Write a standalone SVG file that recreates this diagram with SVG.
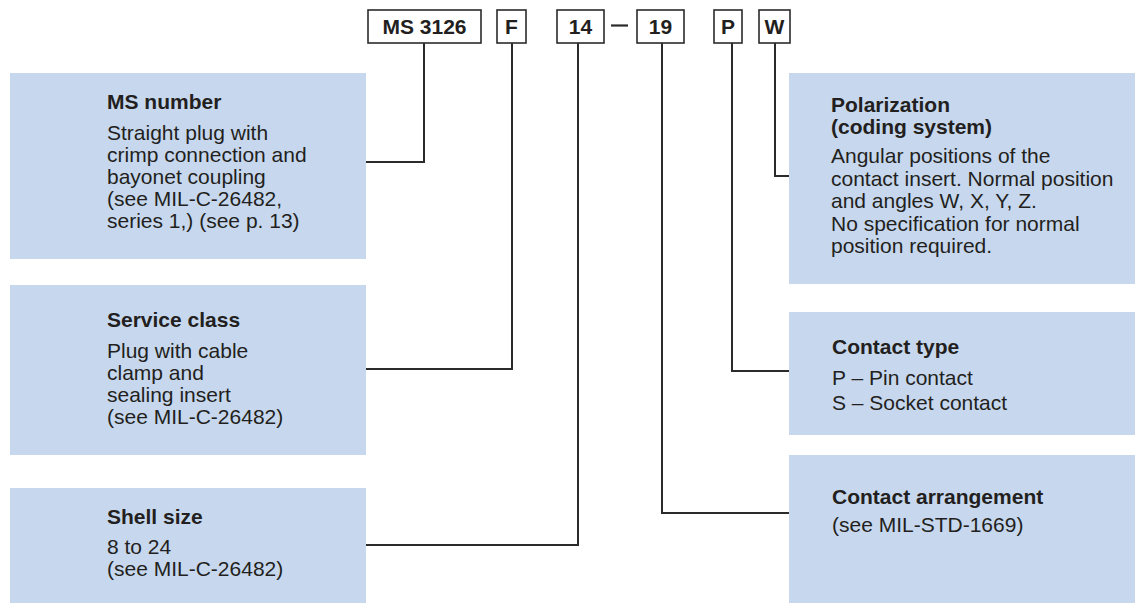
<svg xmlns="http://www.w3.org/2000/svg" width="1135" height="603" viewBox="0 0 1135 603">
<style>
.panel{fill:#c7d8ee;stroke:none}
.code{fill:#fff;stroke:#2b2b2b;stroke-width:1.6}
.t{font-family:"Liberation Sans",Arial,Helvetica,sans-serif;font-size:21px;fill:#231f20}
.b{font-weight:bold}
.c{text-anchor:middle}
.conn{fill:none;stroke:#2b2b2b;stroke-width:2}
</style>
<rect width="1135" height="603" fill="#fff"/>
<g id="code">
  <g id="code-ms"><rect class="code" x="368" y="10" width="113" height="33"/><text class="t b c" x="424.5" y="34">MS 3126</text></g>
  <g id="code-f"><rect class="code" x="497" y="10" width="29" height="33"/><text class="t b c" x="511.5" y="34">F</text></g>
  <g id="code-14"><rect class="code" x="557" y="10" width="47" height="33"/><text class="t b c" x="580.5" y="34">14</text></g>
  <line x1="611" y1="25.5" x2="628" y2="25.5" stroke="#2b2b2b" stroke-width="2.2"/>
  <g id="code-19"><rect class="code" x="637" y="10" width="47" height="33"/><text class="t b c" x="660.5" y="34">19</text></g>
  <g id="code-p"><rect class="code" x="714" y="10" width="28" height="33"/><text class="t b c" x="728" y="34">P</text></g>
  <g id="code-w"><rect class="code" x="759" y="10" width="31" height="33"/><text class="t b c" x="774.5" y="34">W</text></g>
</g>
<g id="connectors">
  <path class="conn" d="M424,43 V162 H366"/>
  <path class="conn" d="M512,43 V369 H366"/>
  <path class="conn" d="M578,43 V545 H366"/>
  <path class="conn" d="M662,43 V513 H789"/>
  <path class="conn" d="M732,43 V371 H789"/>
  <path class="conn" d="M775,43 V176 H789"/>
</g>
<g id="ms-number">
  <rect class="panel" x="10" y="73" width="356" height="186"/>
  <text class="t b" x="107" y="109">MS number</text>
  <text class="t" x="107" y="140">Straight plug with</text>
  <text class="t" x="107" y="162">crimp connection and</text>
  <text class="t" x="107" y="184">bayonet coupling</text>
  <text class="t" x="107" y="206">(see MIL-C-26482,</text>
  <text class="t" x="107" y="228">series 1,) (see p. 13)</text>
</g>
<g id="service-class">
  <rect class="panel" x="10" y="285" width="356" height="170"/>
  <text class="t b" x="107" y="327">Service class</text>
  <text class="t" x="107" y="358">Plug with cable</text>
  <text class="t" x="107" y="380">clamp and</text>
  <text class="t" x="107" y="402">sealing insert</text>
  <text class="t" x="107" y="424">(see MIL-C-26482)</text>
</g>
<g id="shell-size">
  <rect class="panel" x="10" y="488" width="356" height="115"/>
  <text class="t b" x="107" y="524">Shell size</text>
  <text class="t" x="107" y="554">8 to 24</text>
  <text class="t" x="107" y="576">(see MIL-C-26482)</text>
</g>
<g id="polarization">
  <rect class="panel" x="789" y="73" width="346" height="211"/>
  <text class="t b" x="831" y="112">Polarization</text>
  <text class="t b" x="831" y="134">(coding system)</text>
  <text class="t" x="831" y="163">Angular positions of the</text>
  <text class="t" x="831" y="185.5">contact insert. Normal position</text>
  <text class="t" x="831" y="208">and angles W, X, Y, Z.</text>
  <text class="t" x="831" y="230.5">No specification for normal</text>
  <text class="t" x="831" y="253">position required.</text>
</g>
<g id="contact-type">
  <rect class="panel" x="789" y="312" width="346" height="123"/>
  <text class="t b" x="832" y="354">Contact type</text>
  <text class="t" x="832" y="385">P – Pin contact</text>
  <text class="t" x="832" y="410">S – Socket contact</text>
</g>
<g id="contact-arrangement">
  <rect class="panel" x="789" y="455" width="346" height="148"/>
  <text class="t b" x="832" y="504">Contact arrangement</text>
  <text class="t" x="832" y="532">(see MIL-STD-1669)</text>
</g>
</svg>
